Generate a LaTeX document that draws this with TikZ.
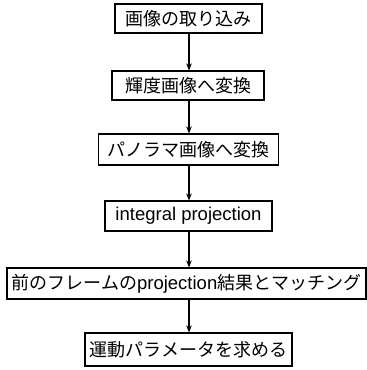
\documentclass[tikz,border=0pt]{standalone}
\usepackage{fontspec}
\setmainfont{Liberation Sans}
\newfontfamily\cjk{Noto Sans CJK JP}
\usetikzlibrary{arrows.meta}
\begin{document}
\begin{tikzpicture}[x=1pt,y=-1pt,
  stepbox/.style={draw=black, line width=1.1pt, inner sep=0pt, align=center,
    font=\fontsize{18}{21}\selectfont},
  flow/.style={line width=1.1pt, -{Stealth[length=7pt,width=5.5pt]}}]
\useasboundingbox (0,0) rectangle (367,370);
\node[stepbox, minimum width=147pt, minimum height=29pt] (b1) at (188.5,18.5) {\cjk 画像の取り込み};
\node[stepbox, minimum width=152pt, minimum height=29pt] (b2) at (188,85.5) {\cjk 輝度画像へ変換};
\node[stepbox, minimum width=180pt, minimum height=31pt] (b3) at (188.5,149.5) {\cjk パノラマ画像へ変換};
\node[stepbox, minimum width=167pt, minimum height=30pt, font=\fontsize{18.5}{21}\selectfont] (b4) at (188.5,216) {integral projection};
\node[stepbox, minimum width=359pt, minimum height=31pt] (b5) at (186.5,283.5) {{\cjk 前のフレームの}{\fontsize{18.5}{21}\selectfont projection}{\cjk 結果とマッチング}};
\node[stepbox, minimum width=207pt, minimum height=33pt] (b6) at (188.5,349.5) {\cjk 運動パラメータを求める};
\draw[flow] (b1.south -| 189,0) -- (b2.north -| 189,0);
\draw[flow] (b2.south -| 189,0) -- (b3.north -| 189,0);
\draw[flow] (b3.south -| 189,0) -- (b4.north -| 189,0);
\draw[flow] (b4.south -| 189,0) -- (b5.north -| 189,0);
\draw[flow] (b5.south -| 189,0) -- (b6.north -| 189,0);
\end{tikzpicture}
\end{document}
